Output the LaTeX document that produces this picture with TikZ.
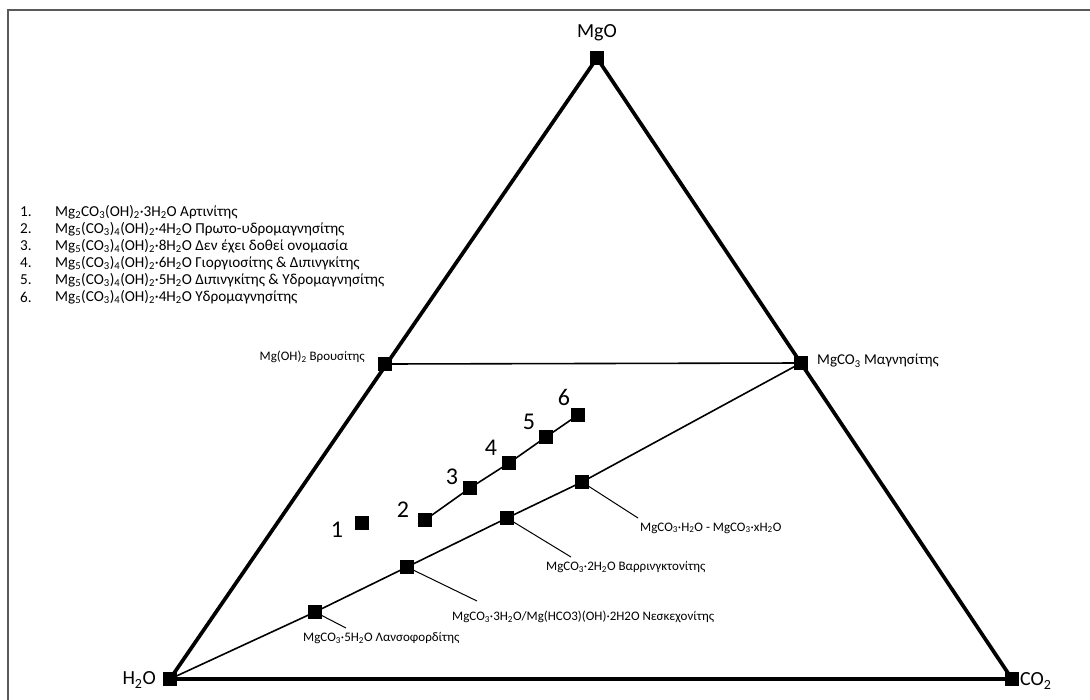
\documentclass[tikz,border=0pt]{standalone}
\usepackage{fontspec}
\setmainfont{Carlito}
\newcommand\sbs[1]{\textsubscript{#1}}
\tikzset{
  sq/.style={rectangle, fill=black, draw=none, minimum size=13pt, inner sep=0pt},
  lbl/.style={inner sep=0pt, font=\fontsize{13}{15}\selectfont},
  biglbl/.style={inner sep=0pt, font=\fontsize{15}{17}\selectfont},
  leg/.style={inner sep=0pt, anchor=west, font=\fontsize{15.2}{17}\selectfont},
  corner/.style={inner sep=0pt, font=\fontsize{20}{23}\selectfont},
  num/.style={inner sep=0pt, font=\fontsize{24}{27}\selectfont},
  edge/.style={line width=3.7pt},
  thinline/.style={line width=1.6pt},
  leader/.style={line width=1pt}
}
\begin{document}
\begin{tikzpicture}[x=1pt,y=-1pt]
\useasboundingbox (0,0) rectangle (1090,699);
\clip (0,0) rectangle (1090,699);
\fill[white] (0,0) rectangle (1090,699);
% frame
\draw[line width=1.6pt, black!65] (8,720) -- (8,10) -- (1110,10);

% corner squares
\node[sq] (mgo) at (597,58) {};
\node[sq] (h2o) at (170,679) {};
\node[sq] (co2) at (1012,679) {};
\node[sq] (bru) at (385,364) {};
\node[sq] (mag) at (801,363) {};
% phases on H2O-MgCO3 line
\node[sq] (lan) at (315,612) {};
\node[sq] (nes) at (407,567) {};
\node[sq] (bar) at (507,518) {};
\node[sq] (mh)  at (582,482) {};
% numbered points
\node[sq] (p1) at (362,523) {};
\node[sq] (p2) at (425,520) {};
\node[sq] (p3) at (470,488) {};
\node[sq] (p4) at (509,463) {};
\node[sq] (p5) at (546,437) {};
\node[sq] (p6) at (578,415) {};

% triangle
\draw[edge] (mgo.center) -- (h2o.center) -- (co2.center) -- cycle;
\draw[thinline] (bru.center) -- (mag.center);
\draw[thinline] (h2o.center) -- (lan.center) -- (nes.center) -- (bar.center) -- (mh.center) -- (mag.center);
\draw[thinline] (p2.center) -- (p3.center) -- (p4.center) -- (p5.center) -- (p6.center);

% redraw squares on top
\foreach \n in {mgo,h2o,co2,bru,mag,lan,nes,bar,mh,p1,p2,p3,p4,p5,p6}
  \fill (\n.south west) rectangle (\n.north east);

% corner labels
\node[corner] (lmgo) at (597,33) {MgO};
\node[corner, anchor=east] (lh2o) at (156,680) {H\sbs{2}O};
\node[corner, anchor=west] (lco2) at (1020,681) {CO\sbs{2}};
\node[lbl, anchor=east] (lbru) at (365,357) {Mg(OH)\sbs{2} Βρουσίτης};
\node[biglbl, anchor=west] (lmag) at (817,361) {MgCO\sbs{3} Μαγνησίτης};

% leader labels
\coordinate (elan) at (346,628);
\coordinate (enes) at (477,601);
\coordinate (ebar) at (571,557);
\coordinate (emh)  at (638,518);
\draw[leader] (lan.center) -- (elan);
\draw[leader] (nes.center) -- (enes);
\draw[leader] (bar.center) -- (ebar);
\draw[leader] (mh.center) -- (emh);
\node[lbl, anchor=west] (llan) at (303,638) {MgCO\sbs{3}·5H\sbs{2}O Λανσοφορδίτης};
\node[lbl, anchor=west] (lnes) at (452,617) {MgCO\sbs{3}·3H\sbs{2}O/Mg(HCO3)(OH)·2H2O Νεσκεχονίτης};
\node[lbl, anchor=west] (lbar) at (546,567) {MgCO\sbs{3}·2H\sbs{2}O Βαρρινγκτονίτης};
\node[lbl, anchor=west] (lmh)  at (640,528) {MgCO\sbs{3}·H\sbs{2}O - MgCO\sbs{3}·xH\sbs{2}O};

% numbers
\node[num] (n1) at (337,530) {1};
\node[num] (n2) at (403,510) {2};
\node[num] (n3) at (452,477) {3};
\node[num] (n4) at (491,448) {4};
\node[num] (n5) at (529,422) {5};
\node[num] (n6) at (564,397) {6};

% legend
\node[leg] (k1) at (20,212) {1.};
\node[leg] (t1) at (55,212) {Mg\sbs{2}CO\sbs{3}(OH)\sbs{2}·3H\sbs{2}O Αρτινίτης};
\node[leg] (k2) at (20,229) {2.};
\node[leg] (t2) at (55,229) {Mg\sbs{5}(CO\sbs{3})\sbs{4}(OH)\sbs{2}·4H\sbs{2}O Πρωτο-υδρομαγνησίτης};
\node[leg] (k3) at (20,246) {3.};
\node[leg] (t3) at (55,246) {Mg\sbs{5}(CO\sbs{3})\sbs{4}(OH)\sbs{2}·8H\sbs{2}O Δεν έχει δοθεί ονομασία};
\node[leg] (k4) at (20,263) {4.};
\node[leg] (t4) at (55,263) {Mg\sbs{5}(CO\sbs{3})\sbs{4}(OH)\sbs{2}·6H\sbs{2}O Γιοργιοσίτης \& Διπινγκίτης};
\node[leg] (k5) at (20,280) {5.};
\node[leg] (t5) at (55,280) {Mg\sbs{5}(CO\sbs{3})\sbs{4}(OH)\sbs{2}·5H\sbs{2}O Διπινγκίτης \& Υδρομαγνησίτης};
\node[leg] (k6) at (20,297) {6.};
\node[leg] (t6) at (55,297) {Mg\sbs{5}(CO\sbs{3})\sbs{4}(OH)\sbs{2}·4H\sbs{2}O Υδρομαγνησίτης};
\end{tikzpicture}
\end{document}
